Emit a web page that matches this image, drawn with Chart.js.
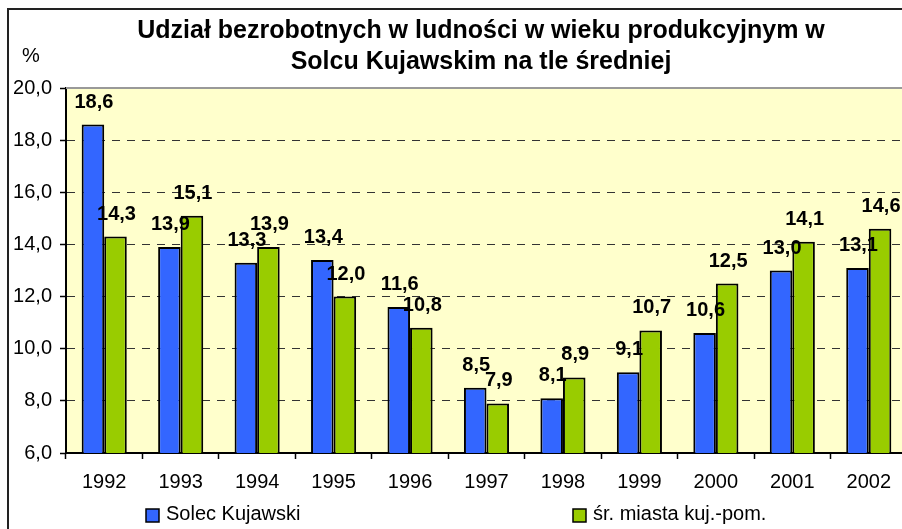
<!DOCTYPE html>
<html>
<head>
<meta charset="utf-8">
<script src="https://cdn.jsdelivr.net/npm/chart.js@4"></script>
<style>
  body { margin: 0; background: #fff; overflow: hidden; }
  #wrap { position: relative; width: 902px; height: 529px; overflow: hidden; }
</style>
</head>
<body>
<div id="wrap">
  <canvas id="bezrobocie" width="912" height="529"></canvas>
</div>
<script>
const years = ['1992', '1993', '1994', '1995', '1996', '1997', '1998', '1999', '2000', '2001', '2002'];
const solec = [18.6, 13.9, 13.3, 13.4, 11.6, 8.5, 8.1, 9.1, 10.6, 13.0, 13.1];
const srednia = [14.3, 15.1, 13.9, 12.0, 10.8, 7.9, 8.9, 10.7, 12.5, 14.1, 14.6];
const seriesNames = ['Solec Kujawski', 'śr. miasta kuj.-pom.'];
const titleLines = ['Udział bezrobotnych w ludności w wieku produkcyjnym w', 'Solcu Kujawskim na tle średniej'];
const unitLabel = '%';

const FONT = "'Liberation Sans', Arial, sans-serif";
const fmt = v => v.toFixed(1).replace('.', ',');

// yellow plot background, frame, title, legend
const decor = {
  id: 'decor',
  beforeDraw(chart) {
    const { ctx, chartArea: a } = chart;
    ctx.save();
    ctx.fillStyle = '#FFFFCC';
    ctx.fillRect(a.left, a.top, a.right - a.left, a.bottom - a.top);
    ctx.restore();
  },
  afterDraw(chart) {
    const { ctx, chartArea: a } = chart;
    ctx.save();
    // top edge of the plot area
    ctx.strokeStyle = '#999';
    ctx.lineWidth = 2;
    ctx.beginPath();
    ctx.moveTo(a.left, a.top);
    ctx.lineTo(a.right, a.top);
    ctx.stroke();

    // outer chart frame
    ctx.strokeStyle = '#222';
    ctx.lineWidth = 2;
    ctx.beginPath();
    ctx.moveTo(8, chart.height);
    ctx.lineTo(8, 9);
    ctx.lineTo(chart.width, 9);
    ctx.stroke();

    // title
    ctx.fillStyle = '#000';
    ctx.textAlign = 'center';
    ctx.textBaseline = 'alphabetic';
    ctx.font = 'bold 25px ' + FONT;
    ctx.fillText(titleLines[0], 481, 38);
    ctx.fillText(titleLines[1], 481, 69);

    ctx.textAlign = 'left';
    ctx.font = '20px ' + FONT;
    ctx.fillText(unitLabel, 22, 62);

    // legend
    const spots = [146, 573];
    chart.data.datasets.forEach((ds, i) => {
      const x = spots[i];
      ctx.fillStyle = ds.backgroundColor;
      ctx.fillRect(x, 509, 13, 13);
      ctx.strokeStyle = '#000';
      ctx.lineWidth = 1.5;
      ctx.strokeRect(x, 509, 13, 13);
      ctx.fillStyle = '#000';
      ctx.fillText(ds.label, x + 20, 520);
    });
    ctx.restore();
  }
};

// value labels above the bars
const valueLabels = {
  id: 'valueLabels',
  afterDatasetsDraw(chart) {
    const { ctx } = chart;
    ctx.save();
    ctx.fillStyle = '#000';
    ctx.font = 'bold 20px ' + FONT;
    ctx.textAlign = 'center';
    ctx.textBaseline = 'alphabetic';
    chart.data.datasets.forEach((ds, i) => {
      chart.getDatasetMeta(i).data.forEach((bar, j) => {
        ctx.fillText(fmt(ds.data[j]), bar.x + 1, bar.y - 17);
      });
    });
    ctx.restore();
  }
};

new Chart(document.getElementById('bezrobocie'), {
  type: 'bar',
  data: {
    labels: years,
    datasets: [
      { label: seriesNames[0], data: solec, backgroundColor: '#3366FF', borderColor: '#000', borderWidth: 2 },
      { label: seriesNames[1], data: srednia, backgroundColor: '#99CC00', borderColor: '#000', borderWidth: 2 }
    ]
  },
  options: {
    responsive: false,
    animation: false,
    layout: { padding: { top: 88, right: 5, bottom: 0, left: 0 } },
    datasets: { bar: { categoryPercentage: 0.59, barPercentage: 1.0 } },
    plugins: {
      legend: { display: false },
      title: { display: false },
      tooltip: { enabled: false }
    },
    scales: {
      x: {
        grid: { display: true, drawOnChartArea: false, drawTicks: true, tickLength: 6, tickColor: '#000', tickWidth: 1.5, offset: true },
        border: { color: '#000', width: 2 },
        ticks: { color: '#000', padding: 11, font: { family: FONT, size: 20 } },
        afterFit(scale) { scale.height = 76; }
      },
      y: {
        min: 6,
        max: 20,
        ticks: { stepSize: 2, color: '#000', padding: 8, font: { family: FONT, size: 20 }, callback: v => fmt(v) },
        grid: {
          color: c => (c.tick && (c.tick.value === 20 || c.tick.value === 6)) ? 'rgba(0,0,0,0)' : '#333',
          lineWidth: 1,
          tickLength: 6,
          tickColor: '#000',
          tickWidth: 1.5
        },
        border: { color: '#000', width: 2, dash: [8, 7] },
        afterFit(scale) { scale.width = 66; }
      }
    }
  },
  plugins: [decor, valueLabels]
});
</script>
</body>
</html>
